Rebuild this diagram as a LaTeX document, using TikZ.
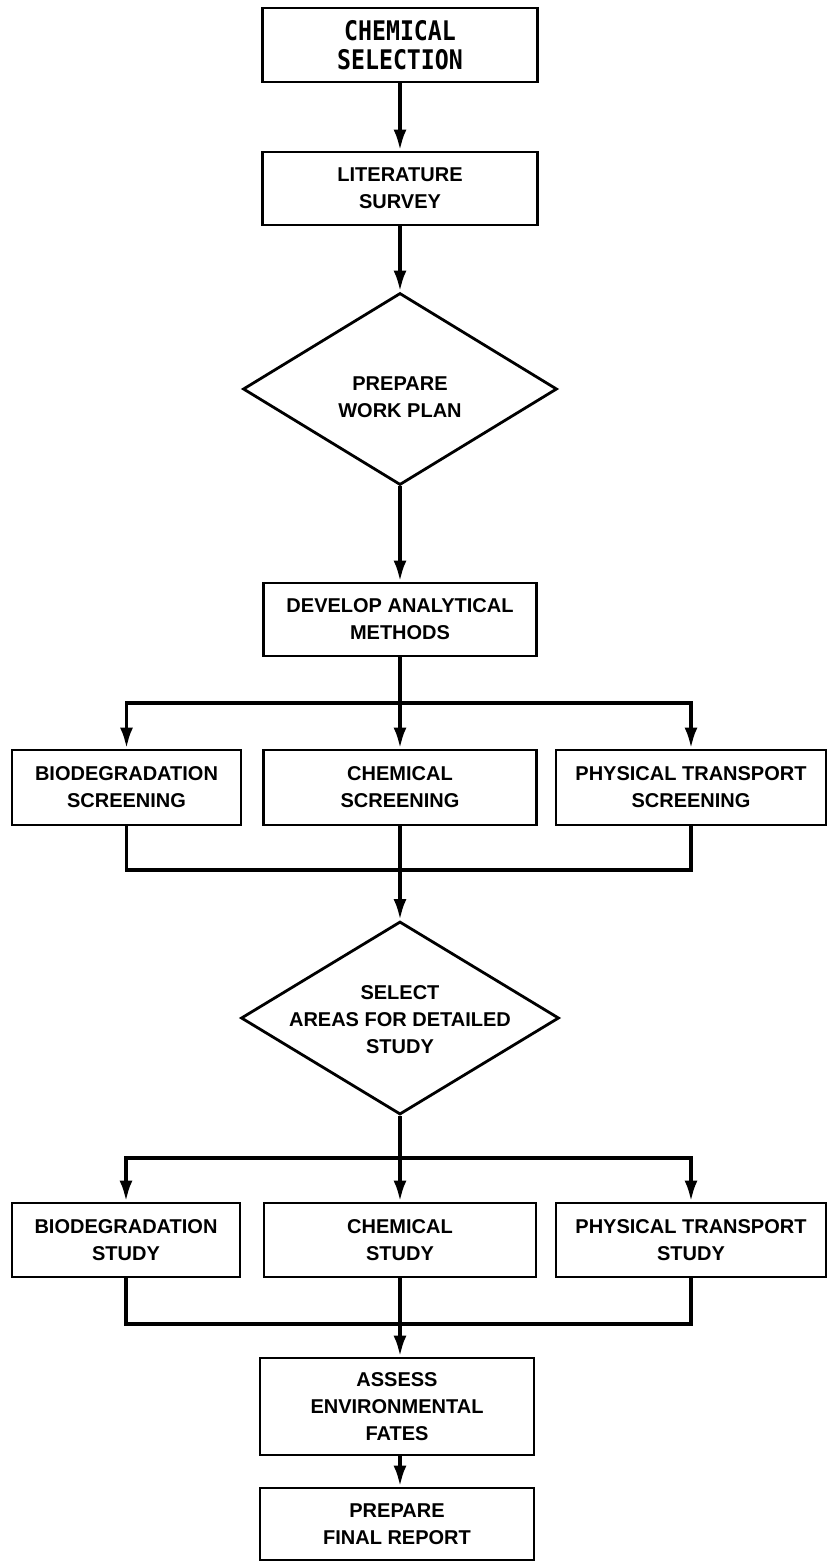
\documentclass[tikz,border=0pt]{standalone}
\usepackage{fontspec}
\setmainfont{Liberation Sans}
\newfontfamily\monofont[FakeStretch=0.86]{DejaVu Sans Mono}
\usetikzlibrary{shapes.geometric,arrows.meta}
\begin{document}
\begin{tikzpicture}[x=1pt,y=-1pt,
  box/.style={draw,line width=2.8pt,rectangle,inner sep=0pt,align=center,
    font=\bfseries\fontsize{20}{27}\selectfont},
  monobox/.style={box,font=\monofont\bfseries\fontsize{27}{29}\selectfont},
  diam/.style={draw,line width=2.8pt,diamond,inner sep=0pt},
  txt/.style={align=center,inner sep=0pt,font=\bfseries\fontsize{20}{27}\selectfont},
  conn/.style={line width=3.8pt,line join=miter},
  arr/.style={conn,-{Latex[length=21pt,width=13pt]}}]
\useasboundingbox (0,0) rectangle (827,1563);

% main column
\node[monobox,minimum width=275pt,minimum height=74pt] (b1) at (400,45) {CHEMICAL\\SELECTION};
\node[box,minimum width=275pt,minimum height=73pt] (b2) at (400,188.5) {LITERATURE\\SURVEY};
\node[diam,minimum width=314pt,minimum height=192pt] (d1) at (400,389) {};
\node[txt] (d1t) at (400,397) {PREPARE\\WORK PLAN};
\node[box,minimum width=273pt,minimum height=73pt] (b3) at (400,619.5) {DEVELOP ANALYTICAL\\METHODS};

% screening row
\node[box,minimum width=229pt,minimum height=75pt] (s1) at (126.5,787.5) {BIODEGRADATION\\SCREENING};
\node[box,minimum width=273pt,minimum height=75pt] (s2) at (400,787.5) {CHEMICAL\\SCREENING};
\node[box,minimum width=270pt,minimum height=75pt] (s3) at (691,787.5) {PHYSICAL TRANSPORT\\SCREENING};

\node[diam,minimum width=318pt,minimum height=193pt] (d2) at (400,1018) {};
\node[txt] (d2t) at (400,1020) {SELECT\\AREAS FOR DETAILED\\STUDY};

% study row
\node[box,minimum width=228pt,minimum height=74pt] (t1) at (126,1240) {BIODEGRADATION\\STUDY};
\node[box,minimum width=272pt,minimum height=74pt] (t2) at (400,1240) {CHEMICAL\\STUDY};
\node[box,minimum width=270pt,minimum height=74pt] (t3) at (691,1240) {PHYSICAL TRANSPORT\\STUDY};

\node[box,minimum width=274pt,minimum height=97pt] (as) at (397,1406.5) {ASSESS\\ENVIRONMENTAL\\FATES};
\node[box,minimum width=274pt,minimum height=72pt] (fr) at (397,1524) {PREPARE\\FINAL REPORT};

\coordinate (br1) at (400,703);
\coordinate (mg1) at (400,870);
\coordinate (br2) at (400,1158);
\coordinate (mg2) at (400,1324);

% connectors
\draw[arr] (b1) -- (b2);
\draw[arr] (b2) -- (d1);
\draw[arr] (d1) -- (b3);
\draw[arr] (b3) -- (s2);
\draw[arr] (br1) -| (s1.north);
\draw[arr] (br1) -| (s3.north);
\draw[conn] (s1.south) |- (mg1) -| (s3.south);
\draw[arr] (s2) -- (d2);
\draw[arr] (d2) -- (t2);
\draw[arr] (br2) -| (t1.north);
\draw[arr] (br2) -| (t3.north);
\draw[conn] (t1.south) |- (mg2) -| (t3.south);
\draw[conn] (t2.south) -- (mg2);
\draw[arr] (mg2) -- (mg2 |- as.north);
\draw[arr] (as.south -| mg2) -- (mg2 |- fr.north);
\end{tikzpicture}
\end{document}
